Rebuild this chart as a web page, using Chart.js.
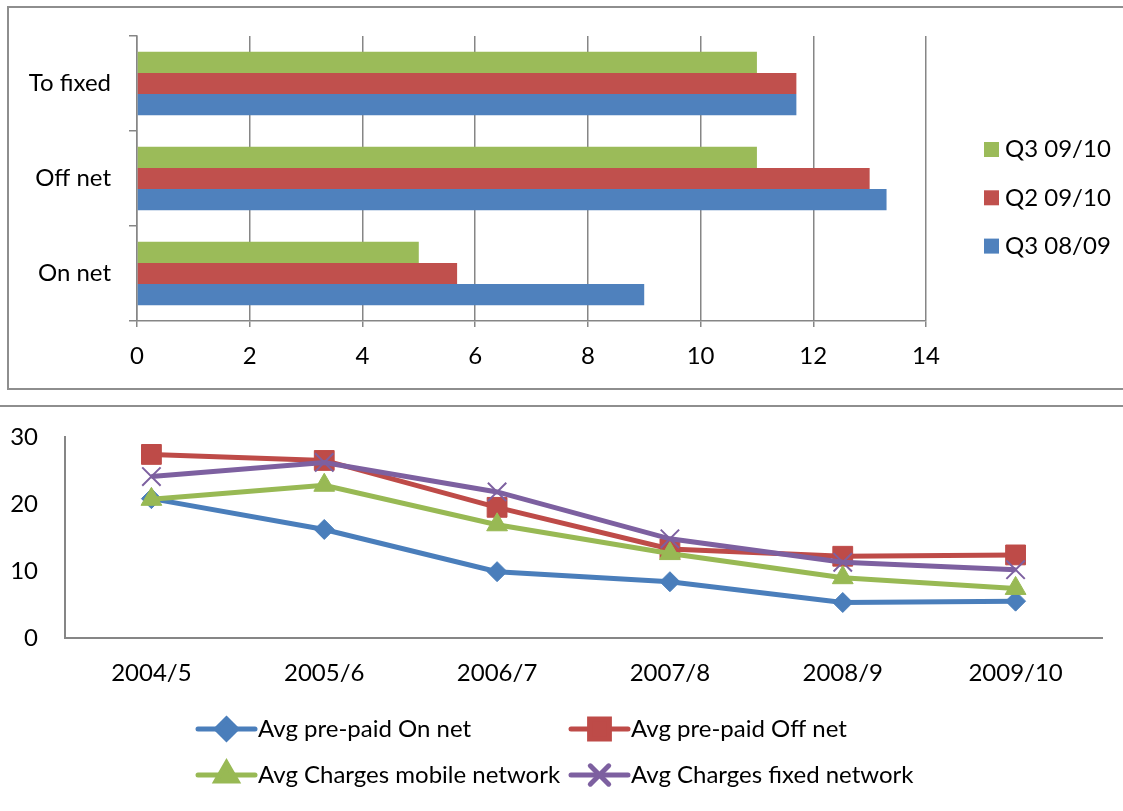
<!DOCTYPE html>
<html>
<head>
<meta charset="utf-8">
<title>Call charges</title>
<script src="https://cdn.jsdelivr.net/npm/chart.js@4.4.0/dist/chart.umd.min.js"></script>
<style>
  html, body { margin: 0; padding: 0; background: #fff; overflow: hidden; }
  body { width: 1123px; height: 811px; position: relative; }
  .frame { position: absolute; border: 2px solid #8e8e8e; box-sizing: border-box; }
  #topFrame { left: 7px; top: 6px; width: 1140px; height: 384px; }
  #bottomFrame { left: -10px; top: 405px; width: 1150px; height: 420px; }
  canvas { position: absolute; left: 0; }
  #barChart { top: 0; }
  #lineChart { top: 407px; }
</style>
</head>
<body>
<div class="frame" id="topFrame"></div>
<div class="frame" id="bottomFrame"></div>
<canvas id="barChart" width="1123" height="400"></canvas>
<canvas id="lineChart" width="1123" height="404"></canvas>
<script>
// ---- top chart data ----
const barCategories = ['To fixed', 'Off net', 'On net'];
const q3_0910 = [11, 11, 5];
const q2_0910 = [11.7, 13, 5.68];
const q3_0809 = [11.7, 13.3, 9];
const barAxisMax = 14;
const barAxisStep = 2;

// ---- bottom chart data ----
const years = ['2004/5', '2005/6', '2006/7', '2007/8', '2008/9', '2009/10'];
const prepaidOnNet = [20.8, 16.2, 9.9, 8.4, 5.3, 5.5];
const prepaidOffNet = [27.4, 26.5, 19.5, 13.3, 12.2, 12.4];
const chargesMobile = [20.7, 22.8, 16.9, 12.6, 9.0, 7.4];
const chargesFixed = [24.1, 26.2, 21.8, 14.8, 11.3, 10.2];
const lineAxisMax = 30;
const lineAxisStep = 10;

const FONT = 'Lato';
const FONT_SIZE = 24;
const AXIS_GREY = '#868686';

Chart.defaults.font.family = FONT;
Chart.defaults.color = '#000';
Chart.defaults.animation = false;

// legend with coloured squares, drawn at fixed spots
const squareLegend = {
    id: 'squareLegend',
    afterDraw(chart, args, opts) {
        const ctx = chart.ctx;
        ctx.save();
        ctx.font = opts.size + 'px ' + FONT;
        ctx.textBaseline = 'middle';
        chart.data.datasets.forEach((ds, i) => {
            const y = opts.top + i * opts.rowGap;
            ctx.fillStyle = ds.backgroundColor;
            ctx.fillRect(opts.left, y - opts.box / 2, opts.box, opts.box);
            ctx.fillStyle = '#000';
            ctx.fillText(ds.label, opts.left + opts.box + opts.gap, y);
        });
        ctx.restore();
    }
};

// legend with line + marker samples, two columns
const lineLegend = {
    id: 'lineLegend',
    afterDraw(chart, args, opts) {
        const ctx = chart.ctx;
        ctx.save();
        ctx.font = opts.size + 'px ' + FONT;
        ctx.textBaseline = 'middle';
        chart.data.datasets.forEach((ds, i) => {
            const x = opts.cols[i % 2];
            const y = opts.rows[Math.floor(i / 2)];
            ctx.strokeStyle = ds.borderColor;
            ctx.lineWidth = ds.borderWidth;
            ctx.lineCap = 'round';
            ctx.beginPath();
            ctx.moveTo(x, y);
            ctx.lineTo(x + opts.sample, y);
            ctx.stroke();
            ctx.fillStyle = ds.pointBackgroundColor;
            ctx.strokeStyle = ds.pointBorderColor;
            Chart.helpers.drawPoint(ctx, {
                pointStyle: ds.pointStyle,
                radius: ds.pointRadius,
                borderWidth: ds.pointBorderWidth,
                rotation: 0
            }, x + opts.sample / 2, y);
            ctx.fillStyle = '#000';
            ctx.fillText(ds.label, x + opts.sample + 3, y);
        });
        ctx.restore();
    }
};

new Chart(document.getElementById('barChart'), {
    type: 'bar',
    data: {
        labels: barCategories,
        datasets: [
            { label: 'Q3 09/10', data: q3_0910, backgroundColor: '#9BBB59' },
            { label: 'Q2 09/10', data: q2_0910, backgroundColor: '#C0504D' },
            { label: 'Q3 08/09', data: q3_0809, backgroundColor: '#4F81BD' }
        ]
    },
    options: {
        indexAxis: 'y',
        responsive: false,
        categoryPercentage: 0.668,
        barPercentage: 1.0,
        layout: { padding: { left: 0, top: 36, right: 197, bottom: 0 } },
        plugins: {
            legend: { display: false },
            tooltip: { enabled: false },
            squareLegend: { left: 984, top: 149.5, rowGap: 48.3, box: 15, gap: 6, size: FONT_SIZE }
        },
        scales: {
            y: {
                afterFit: (scale) => { scale.width = 137; },
                ticks: { font: { size: FONT_SIZE }, color: '#000', padding: 18 },
                grid: {
                    drawOnChartArea: false,
                    drawTicks: true,
                    tickLength: 8,
                    offset: true,
                    color: AXIS_GREY,
                    lineWidth: 1.5
                },
                border: { color: AXIS_GREY, width: 1.5 }
            },
            x: {
                min: 0,
                max: barAxisMax,
                afterFit: (scale) => { scale.height = 79; },
                ticks: { stepSize: barAxisStep, font: { size: FONT_SIZE }, color: '#000', padding: 15 },
                grid: { color: AXIS_GREY, lineWidth: 1.5, tickLength: 6 },
                border: { color: AXIS_GREY, width: 1.5 }
            }
        }
    },
    plugins: [squareLegend]
});

new Chart(document.getElementById('lineChart'), {
    type: 'line',
    data: {
        labels: years,
        datasets: [
            {
                label: 'Avg pre-paid On net', data: prepaidOnNet, order: 3,
                borderColor: '#4A7EBB', pointBackgroundColor: '#4A7EBB', pointBorderColor: '#4A7EBB',
                pointStyle: 'rectRot', pointRadius: 10, pointBorderWidth: 1
            },
            {
                label: 'Avg pre-paid Off net', data: prepaidOffNet, order: 2,
                borderColor: '#BE4B48', pointBackgroundColor: '#BE4B48', pointBorderColor: '#BE4B48',
                pointStyle: 'rect', pointRadius: 14, pointBorderWidth: 1
            },
            {
                label: 'Avg Charges mobile network', data: chargesMobile, order: 1,
                borderColor: '#98B954', pointBackgroundColor: '#98B954', pointBorderColor: '#98B954',
                pointStyle: 'triangle', pointRadius: 12, pointBorderWidth: 1
            },
            {
                label: 'Avg Charges fixed network', data: chargesFixed, order: 0,
                borderColor: '#7D60A0', pointBackgroundColor: '#7D60A0', pointBorderColor: '#7D60A0',
                pointStyle: 'crossRot', pointRadius: 13, pointBorderWidth: 2
            }
        ].map((ds) => Object.assign(ds, { borderWidth: 5, tension: 0, fill: false }))
    },
    options: {
        responsive: false,
        layout: { padding: { left: 0, top: 30, right: 21, bottom: 0 } },
        plugins: {
            legend: { display: false },
            tooltip: { enabled: false },
            lineLegend: { cols: [198, 571], rows: [322, 368], sample: 57, size: FONT_SIZE }
        },
        scales: {
            x: {
                offset: true,
                afterFit: (scale) => { scale.height = 173; },
                ticks: { font: { size: FONT_SIZE }, color: '#000', padding: 21 },
                grid: { display: false, drawTicks: false },
                border: { color: AXIS_GREY, width: 2 }
            },
            y: {
                min: 0,
                max: lineAxisMax,
                afterFit: (scale) => {
                    scale.width = 65;
                    // tick padding is horizontal here; don't let it push the plot down
                    scale.paddingTop = 14;
                    scale.paddingBottom = 14;
                },
                ticks: { stepSize: lineAxisStep, font: { size: FONT_SIZE }, color: '#000', padding: 27 },
                grid: { display: false, drawTicks: false },
                border: { color: AXIS_GREY, width: 2 }
            }
        }
    },
    plugins: [lineLegend]
});
</script>
</body>
</html>
